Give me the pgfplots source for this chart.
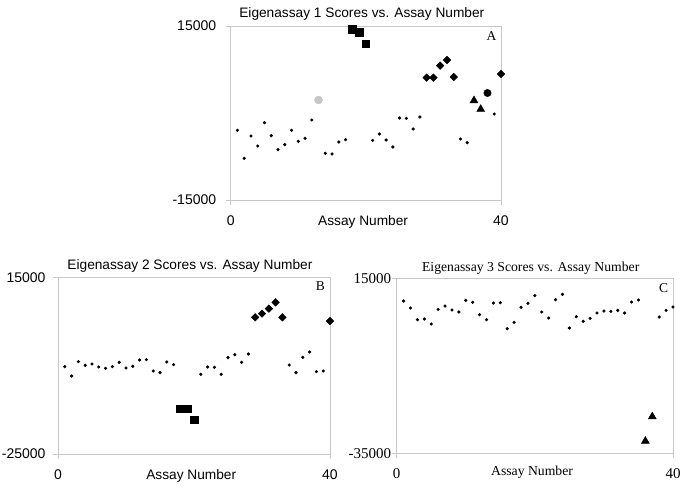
\documentclass[border=0pt]{standalone}
\usepackage{fontspec}
\setmainfont{Liberation Sans}
\newfontfamily\seriffont{Liberation Serif}
\usepackage{pgfplots}
\pgfplotsset{compat=1.18}
\definecolor{axgray}{HTML}{C8C8C8}
\definecolor{lightpt}{HTML}{C6C6C6}
\pgfplotsset{
  panel/.style={
    anchor=south west, scale only axis, clip=false,
    xmin=0, xmax=40, xtick={0,40},
    axis line style={axgray, line width=0.8pt},
    tick style={axgray, line width=0.8pt},
    tick align=outside, major tick length=5pt,
    xtick pos=lower, ytick pos=left,
    /pgf/number format/assume math mode=true,
    scaled y ticks=false,
    yticklabel style={/pgf/number format/fixed, /pgf/number format/1000 sep={}},
    title style={at={(axis description cs:0.485,1)}, anchor=center},
    xlabel style={at={(axis description cs:0.49,0)}, anchor=center, yshift=-22pt},
    xlabel={Assay Number},
    xticklabel style={yshift=-7pt},
  },
  dots/.style={only marks, mark=*, mark size=1.4pt, black},
  sq/.style={only marks, mark=square*, mark size=3.8pt, black},
  dia/.style={only marks, mark=square*, mark size=2.7pt, mark options={rotate=45}, black},
  tri/.style={only marks, mark=triangle*, mark size=4.6pt, black},
  circ/.style={only marks, mark=*, mark size=3.7pt, black},
}
\begin{document}
\begin{tikzpicture}
\path[use as bounding box] (0,0) rectangle (685pt,487pt);
% ---------------- Panel A ----------------
\begin{axis}[panel, at={(230.7pt,287pt)}, width=270.3pt, height=174pt,
  ymin=-15000, ymax=15000, ytick={-15000,15000},
  font=\fontsize{13.7}{16}\selectfont,
  ticklabel style={font=\fontsize{14}{16}\selectfont},
  yticklabel style={xshift=-6pt},
  title style={yshift=6pt},
  title={Eigenassay 1 Scores vs. Assay Number}]
\addplot[dots] coordinates {(1,-2988) (2,-7816) (3,-3965) (4,-5689) (5,-1666) (6,-3908) (7,-6321) (8,-5459) (9,-2988) (10,-4885) (11,-4368) (12,-1207) (14,-6953) (15,-7068) (16,-5000) (17,-4598) (21,-4713) (22,-3621) (23,-4655) (24,-5862) (25,-862) (26,-920) (27,-2759) (28,-690) (34,-4483) (35,-5115) (39,-172)};
\addplot[only marks, mark=*, mark size=4pt, lightpt] coordinates {(13,2242)};
\addplot[sq] coordinates {(18,14425) (19,13966) (20,11954)};
\addplot[dia] coordinates {(29,6092) (30,6092) (31,8161) (32,9138) (33,6207) (40,6724)};
\addplot[tri] coordinates {(36,2150) (37,650)};
\addplot[circ] coordinates {(38,3448)};
\node[font=\seriffont\fontsize{13.5}{16}\selectfont] at ([xshift=-9.5pt,yshift=-10.5pt]rel axis cs:1,1) {A};
\end{axis}
% ---------------- Panel B ----------------
\begin{axis}[panel, at={(58pt,33pt)}, width=272pt, height=176.7pt,
  ymin=-25000, ymax=15000, ytick={-25000,15000},
  font=\fontsize{13.7}{16}\selectfont,
  ticklabel style={font=\fontsize{14}{16}\selectfont},
  yticklabel style={xshift=-4pt},
  title style={yshift=5pt},
  title={Eigenassay 2 Scores vs. Assay Number}]
\addplot[dots] coordinates {(1,-5226) (2,-7339) (3,-4094) (4,-4924) (5,-4622) (6,-5302) (7,-5603) (8,-5226) (9,-4245) (10,-5528) (11,-5150) (12,-3717) (13,-3641) (14,-6207) (15,-6584) (16,-4169) (17,-4773) (21,-6962) (22,-5302) (23,-5377) (24,-6962) (25,-3188) (26,-2509) (27,-4245) (28,-2358) (34,-4849) (35,-6584) (36,-3113) (37,-1905) (38,-6358) (39,-6207)};
\addplot[sq] coordinates {(18,-14735) (19,-14735) (20,-17226)};
\addplot[dia] coordinates {(29,5944) (30,6774) (31,7906) (32,9340) (33,5944) (40,5113)};
\node[font=\seriffont\fontsize{13.5}{16}\selectfont] at ([xshift=-9.5pt,yshift=-9pt]rel axis cs:1,1) {B};
\end{axis}
% ---------------- Panel C ----------------
\begin{axis}[panel, at={(396.7pt,33.7pt)}, width=276.3pt, height=174.6pt,
  ymin=-35000, ymax=15000, ytick={-35000,15000},
  font=\seriffont\fontsize{13.7}{16}\selectfont,
  ticklabel style={font=\seriffont\fontsize{15}{17}\selectfont},
  yticklabel style={xshift=3pt},
  xlabel style={yshift=3pt},
  title style={yshift=4pt},
  title={Eigenassay 3 Scores vs. Assay Number}]
\addplot[dots] coordinates {(1,8607) (2,6603) (3,3263) (4,3454) (5,2023) (6,6221) (7,7176) (8,6030) (9,5458) (10,8798) (11,8225) (12,4695) (13,3263) (14,8034) (15,8130) (16,687) (17,2500) (18,6794) (19,7939) (20,10134) (21,5458) (22,3740) (23,8989) (24,10515) (25,878) (26,4122) (27,2786) (28,3645) (29,5172) (30,5744) (31,5649) (32,5935) (33,5172) (34,8321) (35,8893) (38,4027) (39,5935) (40,6889)};
\addplot[tri] coordinates {(36,-31500) (37,-24500)};
\node[font=\seriffont\fontsize{13.5}{16}\selectfont] at ([xshift=-9.3pt,yshift=-9.3pt]rel axis cs:1,1) {C};
\end{axis}
\end{tikzpicture}
\end{document}
